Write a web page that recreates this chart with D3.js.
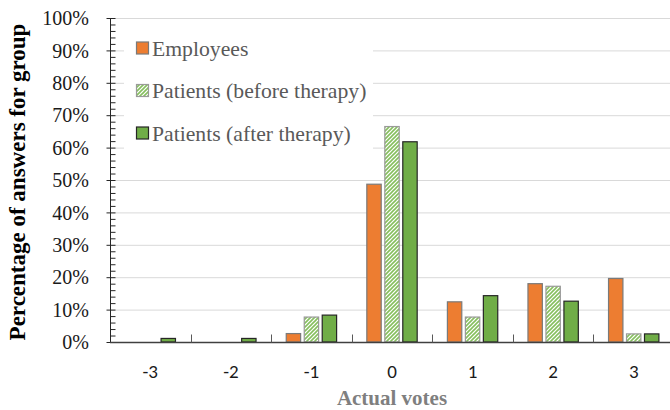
<!DOCTYPE html>
<html>
<head>
<meta charset="utf-8">
<script src="https://cdn.jsdelivr.net/npm/d3@7"></script>
<style>
  html, body { margin: 0; padding: 0; background: #fff; }
  svg { display: block; }
</style>
</head>
<body>
<svg id="chart" width="670" height="410"></svg>
<script>
// Vote categories and share of answers (%) per group
const categories = ["-3", "-2", "-1", "0", "1", "2", "3"];
const seriesNames = ["Employees", "Patients (before therapy)", "Patients (after therapy)"];
const employees = [0, 0, 2.6, 48.7, 12.4, 18.0, 19.6];
const patientsBefore = [0, 0, 7.7, 66.5, 7.7, 17.2, 2.5];
const patientsAfter = [1.1, 1.1, 8.3, 61.8, 14.3, 12.6, 2.5];
const yTicks = [0, 10, 20, 30, 40, 50, 60, 70, 80, 90, 100];

const seriesValues = [employees, patientsBefore, patientsAfter];

const svg = d3.select("#chart");
const plot = { left: 110, right: 674, top: 18, bottom: 342 };

const serif = "'Liberation Serif', 'Times New Roman', serif";
const sans = "Carlito, Lato, 'Open Sans', sans-serif";

// Hatch for the "before therapy" bars
const defs = svg.append("defs");
const pat = defs.append("pattern")
  .attr("id", "hatch")
  .attr("patternUnits", "userSpaceOnUse")
  .attr("width", 4).attr("height", 4);
pat.append("rect").attr("width", 4).attr("height", 4).attr("fill", "#fff");
pat.append("path")
  .attr("d", "M-1,1 L1,-1 M0,4 L4,0 M3,5 L5,3")
  .attr("stroke", "#86bf5e").attr("stroke-width", 1.6);

const x0 = d3.scaleBand().domain(categories).range([plot.left, plot.right]).padding(0);
const x1 = d3.scaleBand().domain(d3.range(3)).range([0, x0.bandwidth()])
  .paddingInner(0.2).paddingOuter(0.84);
const y = d3.scaleLinear().domain([0, 100]).range([plot.bottom, plot.top]);

const fills = ["#ed7d31", "url(#hatch)", "#70ad47"];
const strokes = ["#7a7a7a", "#9a9a9a", "#262626"];

// Gridlines
svg.append("g").selectAll("line").data(yTicks.filter(d => d > 0)).join("line")
  .attr("x1", plot.left).attr("x2", plot.right)
  .attr("y1", d => y(d) + 0.5).attr("y2", d => y(d) + 0.5)
  .attr("stroke", "#d9d9d9").attr("stroke-width", 1);

// Bars
const barG = svg.append("g");
seriesValues.forEach((vals, s) => {
  barG.append("g").selectAll("rect")
    .data(vals.map((v, i) => ({ cat: categories[i], v })).filter(d => d.v > 0))
    .join("rect")
    .attr("x", d => x0(d.cat) + x1(s))
    .attr("y", d => y(d.v))
    .attr("width", x1.bandwidth())
    .attr("height", d => y(0) - y(d.v))
    .attr("fill", fills[s])
    .attr("stroke", strokes[s])
    .attr("stroke-width", 1.2);
});

// Legend (white box over the gridlines)
const lg = svg.append("g");
lg.append("rect").attr("x", 124).attr("y", 24).attr("width", 249).attr("height", 134).attr("fill", "#fff");
seriesNames.forEach((name, s) => {
  const cy = 48 + s * 42.5;
  lg.append("rect").attr("x", 136.5).attr("y", cy - 6).attr("width", 12).attr("height", 12)
    .attr("fill", fills[s]).attr("stroke", strokes[s]).attr("stroke-width", 1.2);
  lg.append("text").attr("x", 152).attr("y", cy).attr("dy", "0.35em")
    .attr("font-family", serif).attr("font-size", 21.7).attr("fill", "#595959")
    .text(name);
});

// Y axis: major ticks crossing the line, minor ticks inside
const yAxisG = svg.append("g").attr("transform", `translate(${plot.left + 0.5},0)`);
yAxisG.append("g").call(d3.axisRight(y).tickValues(d3.range(0, 101, 2)).tickSize(5).tickFormat(""))
  .call(g => g.select(".domain").remove())
  .call(g => g.selectAll("line").attr("stroke", "#262626"));
yAxisG.append("g").call(d3.axisLeft(y).tickValues(yTicks).tickSize(4).tickFormat(""))
  .call(g => g.select(".domain").remove())
  .call(g => g.selectAll("line").attr("stroke", "#262626"));
yAxisG.append("line").attr("y1", plot.top).attr("y2", plot.bottom).attr("stroke", "#262626");
svg.append("g").selectAll("text").data(yTicks).join("text")
  .attr("x", 89).attr("y", d => y(d)).attr("dy", "0.36em")
  .attr("text-anchor", "end")
  .attr("font-family", serif).attr("font-size", 20).attr("fill", "#1a1a1a")
  .text(d => d + "%");

// X axis: baseline, boundary ticks pointing up, category labels
const xAxisG = svg.append("g").attr("transform", `translate(0,${plot.bottom + 0.5})`);
xAxisG.append("line").attr("x1", plot.left).attr("x2", plot.right).attr("stroke", "#404040").attr("stroke-width", 1.3);
xAxisG.selectAll(".bt").data(categories.slice(1)).join("line")
  .attr("class", "bt")
  .attr("x1", d => Math.round(x0(d)) + 0.5).attr("x2", d => Math.round(x0(d)) + 0.5)
  .attr("y1", 0).attr("y2", -8)
  .attr("stroke", "#595959");
svg.append("g").selectAll("text").data(categories).join("text")
  .attr("x", d => x0(d) + x0.bandwidth() / 2).attr("y", 371).attr("dy", "0.35em")
  .attr("text-anchor", "middle")
  .attr("font-family", sans).attr("font-size", 19).attr("fill", "#1a1a1a")
  .text(d => d);

// Axis titles
svg.append("text")
  .attr("x", (plot.left + plot.right) / 2).attr("y", 405)
  .attr("text-anchor", "middle")
  .attr("font-family", serif).attr("font-size", 21).attr("font-weight", "bold")
  .attr("fill", "#7f7f7f")
  .text("Actual votes");
svg.append("text")
  .attr("transform", `translate(25,${(plot.top + plot.bottom) / 2 + 2}) rotate(-90)`)
  .attr("text-anchor", "middle")
  .attr("font-family", serif).attr("font-size", 23).attr("font-weight", "bold")
  .attr("fill", "#000")
  .text("Percentage of answers for group");
</script>
</body>
</html>
